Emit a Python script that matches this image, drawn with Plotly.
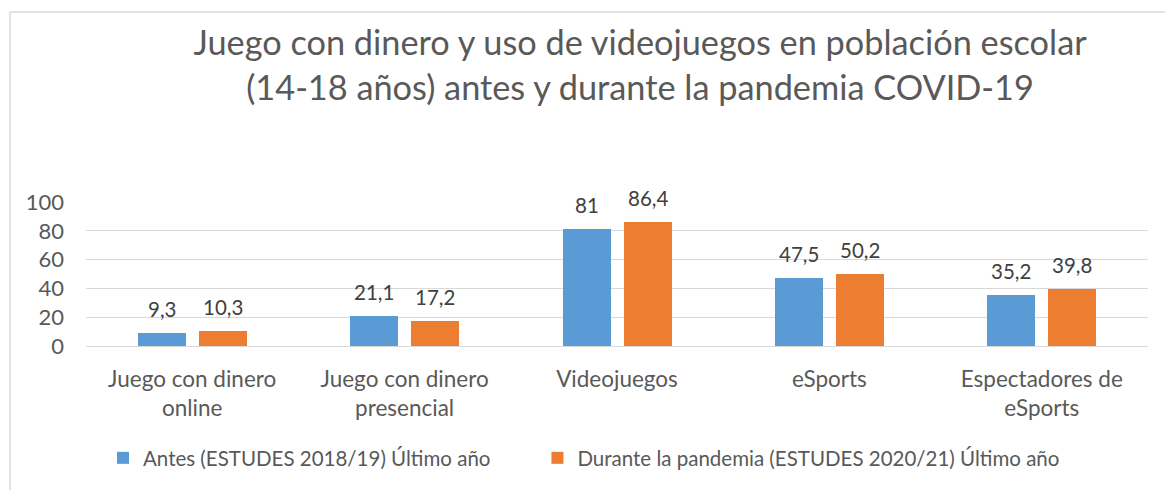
import plotly.graph_objects as go

categories = [
    "Juego con dinero<br>online",
    "Juego con dinero<br>presencial",
    "Videojuegos",
    "eSports",
    "Espectadores de<br>eSports",
]
antes = [9.3, 21.1, 81.0, 47.5, 35.2]
durante = [10.3, 17.2, 86.4, 50.2, 39.8]
series_names = [
    "Antes (ESTUDES 2018/19) Último año",
    "Durante la pandemia (ESTUDES 2020/21) Último año",
]
y_ticks = [0, 20, 40, 60, 80, 100]

BLUE = "#5B9BD5"
ORANGE = "#ED7D31"
GRID = "#D9D9D9"
TEXT = "#595959"
LABEL = "#404040"
FONT = "Lato"

# bar geometry in category units
BAR_W = 0.226
OFFSET = 0.1436

def fmt(v):
    return f"{v:g}".replace(".", ",")

xs = list(range(len(categories)))

# trailing non-breaking spaces widen the first legend entry
legend_pad = ["\u00a0" * 8, ""]

fig = go.Figure()
for vals, name, pad, color, sign in [
    (antes, series_names[0], legend_pad[0], BLUE, -1),
    (durante, series_names[1], legend_pad[1], ORANGE, 1),
]:
    fig.add_trace(go.Bar(
        x=[i + sign * OFFSET for i in xs],
        y=vals,
        width=BAR_W,
        name=name + pad,
        marker=dict(color=color, line=dict(width=0)),
    ))
    for i, v in zip(xs, vals):
        fig.add_annotation(
            x=i + sign * OFFSET, y=v, xref="x", yref="y",
            text=fmt(v), showarrow=False,
            yanchor="middle", yshift=24,
            font=dict(family=FONT, size=20.5, color=LABEL),
        )

# chart frame (top and left edges)
fig.add_shape(type="line", xref="paper", yref="paper",
              x0=-0.0716, x1=1.02, y0=2.319, y1=2.319,
              line=dict(color=GRID, width=1.5))
fig.add_shape(type="line", xref="paper", yref="paper",
              x0=-0.0716, x1=-0.0716, y0=-1.1, y1=2.319,
              line=dict(color=GRID, width=1.5))

fig.update_layout(
    width=1165, height=490,
    margin=dict(l=86, r=17, t=202, b=144, autoexpand=False),
    paper_bgcolor="white", plot_bgcolor="white",
    font=dict(family=FONT, color=TEXT, size=20),
    title=dict(
        text="Juego con dinero y uso de videojuegos en población escolar<br>(14-18 años) antes y durante la pandemia COVID-19",
        x=0.5217, xref="paper", xanchor="center",
        y=1 - 55 / 490, yref="container", yanchor="top",
        font=dict(family=FONT, size=34.3, color=TEXT),
    ),
    showlegend=True,
    legend=dict(
        orientation="h", x=0.016, xref="paper", xanchor="left",
        y=1 - 458 / 490, yref="container", yanchor="middle",
        font=dict(family=FONT, size=20.5, color=TEXT),
    ),
    bargap=0, barmode="overlay",
    xaxis=dict(
        range=[-0.5, len(categories) - 0.5],
        tickvals=xs, ticktext=categories,
        showgrid=False, showline=False, zeroline=False,
        ticks="", ticklabelstandoff=17,
        tickfont=dict(family=FONT, size=22.5, color=TEXT),
    ),
    yaxis=dict(
        range=[0, 100], tickvals=y_ticks,
        showgrid=True, gridcolor=GRID, gridwidth=1,
        zeroline=True, zerolinecolor=GRID, zerolinewidth=1,
        showline=False, ticks="", ticklabelstandoff=21,
        tickfont=dict(family=FONT, size=22, color=TEXT),
    ),
)

fig.write_html("out.html")
